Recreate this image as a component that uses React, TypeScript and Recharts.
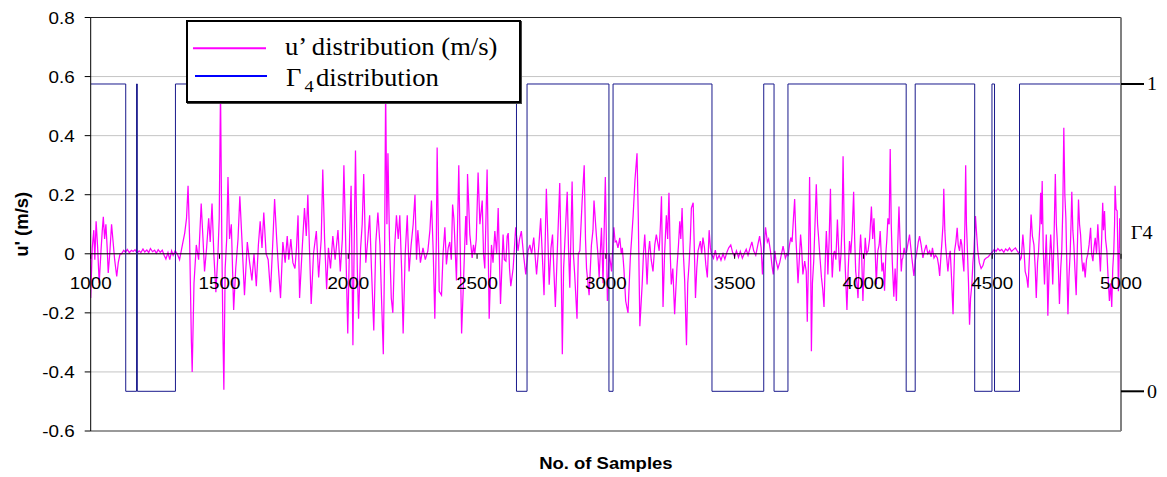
import React from "react";
import {
  LineChart,
  Line,
  XAxis,
  YAxis,
  CartesianGrid,
  ReferenceLine,
  Legend,
  Label,
} from "recharts";

// ---------- data ----------
const xTicks = [1000, 1500, 2000, 2500, 3000, 3500, 4000, 4500, 5000];
const uTicks = [0.8, 0.6, 0.4, 0.2, 0, -0.2, -0.4, -0.6];
const gTicks = [0, 1];

// u' distribution (m/s): [sample, value]
const uSegStart: [number, number][] = [
  [1000, -0.15], [1006, 0.02], [1012, 0.08], [1016, -0.02], [1021, 0.11], [1027, 0.02],
  [1033, -0.1], [1040, 0.01], [1045, 0.08], [1049, 0.125], [1054, 0.05], [1059, 0.1],
  [1064, 0.02], [1068, -0.065], [1074, 0.0], [1081, 0.1], [1087, 0.04], [1093, -0.02],
  [1101, -0.077], [1107, -0.03], [1114, 0.0], [1120, 0.0],
];
const uSegQuiet1: [number, number][] = [
  [1128, 0.012], [1135, 0.005], [1142, 0.015], [1150, 0.004], [1158, 0.012], [1165, 0.008],
  [1172, 0.014], [1180, 0.002], [1188, 0.01], [1195, 0.004], [1203, 0.016], [1210, 0.006],
  [1218, 0.013], [1225, 0.004], [1232, 0.018], [1240, 0.007], [1248, 0.012], [1255, 0.002],
  [1262, 0.014], [1270, 0.005], [1278, 0.012], [1285, -0.005], [1292, -0.018], [1300, 0.004],
  [1307, -0.02], [1314, 0.01], [1320, -0.005], [1328, 0.01],
];
const uSegB: [number, number][] = [
  [1336, 0.0], [1345, -0.02], [1356, 0.03], [1365, 0.07], [1372, 0.12], [1378, 0.23],
  [1384, 0.05], [1391, -0.3], [1394, -0.4], [1401, -0.1], [1410, 0.03], [1419, -0.02],
  [1429, 0.17], [1436, 0.05], [1442, -0.06], [1450, 0.02], [1458, 0.12], [1464, 0.04],
  [1471, 0.17], [1478, 0.0], [1486, -0.13], [1494, 0.0], [1499, 0.12], [1504, 0.56],
  [1509, 0.05], [1513, -0.25], [1517, -0.46], [1522, -0.05], [1528, 0.05], [1533, 0.26],
  [1539, 0.05], [1546, 0.1], [1555, -0.19], [1563, -0.05], [1572, 0.05], [1579, 0.195],
  [1587, 0.05], [1597, -0.14], [1608, 0.04], [1617, -0.03], [1626, -0.09], [1634, 0.0],
  [1643, -0.11], [1651, 0.03], [1658, 0.11], [1665, 0.02], [1672, 0.14], [1681, 0.0],
  [1689, -0.02], [1698, -0.13], [1706, 0.02], [1714, 0.185], [1722, 0.05], [1729, -0.05],
  [1737, -0.15], [1746, 0.04], [1755, -0.03], [1763, 0.06], [1769, -0.02], [1777, 0.05],
  [1785, -0.03], [1793, -0.05], [1799, 0.02], [1805, 0.13], [1811, -0.15], [1820, 0.0],
  [1830, 0.155], [1837, 0.06], [1843, 0.2], [1850, 0.0], [1856, -0.17], [1865, 0.0],
  [1876, 0.077], [1885, -0.08], [1895, 0.05], [1901, 0.285], [1908, 0.05], [1916, -0.12],
  [1923, 0.02], [1931, -0.05], [1940, 0.06], [1949, -0.02], [1960, 0.08], [1969, -0.06],
  [1977, 0.05], [1983, 0.3], [1991, 0.0], [1998, -0.27], [2005, 0.05], [2011, 0.23],
  [2018, -0.31], [2024, 0.1], [2028, 0.35], [2035, -0.05], [2040, -0.22], [2048, 0.02],
  [2054, 0.1], [2060, 0.27], [2068, -0.03], [2076, 0.05], [2083, 0.13], [2090, -0.05],
  [2099, -0.26], [2107, 0.04], [2115, 0.14], [2123, 0.03], [2129, -0.15], [2136, -0.34],
  [2141, 0.0], [2145, 0.56], [2150, 0.1], [2154, 0.34], [2160, 0.05], [2167, -0.15],
  [2173, -0.2], [2180, 0.02], [2187, 0.13], [2194, 0.05], [2200, 0.13], [2207, -0.05],
  [2213, -0.27], [2221, 0.0], [2229, 0.13], [2236, -0.06], [2244, 0.03], [2252, 0.1],
  [2259, 0.2], [2265, -0.02], [2270, 0.08], [2280, -0.03], [2290, 0.02], [2299, -0.02],
  [2309, 0.01], [2317, 0.08], [2323, 0.18], [2330, 0.0], [2336, -0.22], [2342, 0.05],
  [2345, 0.36],
];
const uSegC: [number, number][] = [
  [2353, -0.127], [2362, -0.14], [2368, 0.0], [2375, 0.09], [2381, -0.036], [2388, 0.02],
  [2394, 0.04], [2400, -0.02], [2405, 0.167], [2410, 0.12], [2420, -0.09], [2429, 0.3],
  [2435, 0.0], [2440, -0.27], [2446, -0.127], [2451, 0.0], [2456, 0.128], [2460, 0.03],
  [2463, 0.27], [2472, 0.065], [2481, -0.014], [2486, 0.03], [2491, -0.002], [2497, 0.05],
  [2504, 0.275], [2511, 0.1], [2520, 0.18], [2525, 0.0], [2530, -0.05], [2539, 0.285],
  [2547, -0.22], [2556, 0.03], [2562, -0.03], [2569, 0.077], [2576, 0.0], [2582, 0.155],
  [2591, -0.17], [2601, 0.065], [2606, -0.02], [2612, -0.025], [2617, 0.06], [2621, 0.07],
  [2626, -0.05], [2631, -0.11], [2640, -0.05], [2650, 0.09], [2659, 0.01], [2665, 0.05],
  [2672, 0.077], [2680, 0.0], [2689, -0.07], [2698, 0.01], [2705, 0.03], [2712, 0.0],
  [2720, 0.055], [2731, -0.07], [2740, 0.03], [2747, 0.12], [2753, 0.0], [2760, -0.14],
  [2769, 0.22], [2775, 0.05], [2780, -0.105], [2787, 0.02], [2793, 0.065], [2798, -0.05],
  [2804, -0.18], [2812, 0.02], [2821, 0.24], [2826, 0.0], [2831, -0.34], [2836, -0.05],
  [2841, 0.043], [2850, 0.21], [2855, 0.02], [2860, -0.115], [2869, 0.245], [2874, 0.0],
  [2879, -0.07], [2888, -0.22], [2893, 0.0], [2899, 0.01], [2908, 0.18], [2916, 0.3],
  [2921, 0.05], [2925, -0.05], [2935, -0.14], [2944, 0.03], [2950, 0.08], [2954, 0.18],
  [2963, 0.065], [2969, 0.0], [2974, -0.08], [2983, 0.088], [2989, -0.1], [2998, 0.26],
  [3006, -0.16], [3013, 0.0], [3018, -0.03], [3022, -0.06], [3031, 0.09], [3036, 0.04],
  [3041, 0.043], [3047, 0.02], [3054, 0.054], [3060, 0.0], [3064, 0.02], [3070, -0.05],
  [3077, -0.16], [3086, -0.2], [3095, -0.014], [3100, 0.05], [3106, 0.13], [3113, 0.25],
  [3121, 0.34], [3126, 0.12], [3132, -0.245], [3141, -0.104], [3146, 0.0], [3151, 0.065],
  [3156, -0.02], [3160, -0.104], [3165, 0.0], [3170, 0.043], [3176, -0.02], [3183, -0.06],
  [3190, 0.03], [3196, 0.065], [3207, 0.01], [3212, 0.1], [3216, 0.195], [3222, -0.18],
  [3228, 0.0], [3235, 0.13], [3240, 0.05], [3245, 0.207], [3250, 0.0], [3254, -0.104],
  [3260, -0.05], [3267, -0.205], [3276, -0.047], [3282, 0.03], [3287, 0.11], [3291, 0.05],
  [3296, 0.155], [3301, 0.0], [3306, -0.09], [3313, -0.31], [3318, -0.1], [3323, -0.036],
  [3328, 0.05], [3332, 0.155], [3339, 0.173], [3344, 0.0], [3348, -0.15], [3353, -0.05],
  [3358, 0.01], [3367, 0.043], [3372, 0.0], [3377, 0.055], [3383, 0.02], [3388, -0.036],
  [3394, -0.08], [3401, 0.08], [3406, 0.02], [3410, 0.0],
];
const uSegQuiet2: [number, number][] = [
  [3418, -0.015], [3425, 0.012], [3432, -0.02], [3440, -0.005], [3447, -0.022], [3455, 0.0],
  [3462, -0.018], [3470, 0.005], [3477, 0.02], [3485, 0.03], [3492, 0.005], [3500, -0.01],
  [3507, 0.01], [3515, -0.012], [3522, 0.008], [3530, -0.015], [3537, 0.0], [3545, 0.015],
  [3552, -0.005], [3560, 0.02], [3567, 0.04], [3574, 0.01], [3582, -0.005], [3590, 0.03],
  [3597, 0.06], [3603, 0.02],
];
const uSegE: [number, number][] = [
  [3608, -0.07], [3614, 0.02], [3620, 0.09], [3627, 0.04], [3632, 0.05], [3639, 0.01],
  [3645, -0.04], [3650, -0.07], [3656, 0.01], [3660, -0.02], [3668, -0.05], [3675, -0.03],
  [3682, 0.0], [3688, 0.026], [3697, -0.015], [3703, 0.0], [3708, -0.005], [3713, 0.03],
  [3718, 0.055], [3723, 0.04], [3727, 0.1], [3733, 0.185], [3738, 0.05], [3741, 0.0],
  [3746, -0.1], [3751, -0.02], [3756, 0.065], [3760, 0.02], [3765, -0.07], [3772, -0.025],
  [3778, -0.06], [3782, -0.23], [3787, 0.0], [3791, 0.26], [3795, 0.0], [3798, -0.33],
  [3802, -0.1], [3807, -0.025], [3812, 0.1], [3817, 0.235], [3822, 0.1], [3826, 0.055],
  [3832, -0.02], [3837, -0.08], [3842, -0.12], [3847, -0.18], [3852, -0.02], [3856, 0.077],
  [3860, 0.0], [3862, -0.07], [3867, 0.05], [3872, 0.22], [3876, 0.0], [3879, -0.08],
  [3884, 0.0], [3888, 0.01], [3893, -0.02], [3899, 0.116], [3903, 0.03], [3908, -0.06],
  [3913, 0.0], [3917, 0.1], [3921, 0.33], [3926, 0.05], [3930, -0.06], [3936, -0.19],
  [3941, -0.05], [3946, 0.043], [3951, 0.0], [3956, 0.07], [3962, 0.21], [3966, 0.05],
  [3970, -0.06], [3975, -0.1], [3979, -0.15], [3984, -0.02], [3989, 0.065], [3993, 0.0],
  [3998, -0.16], [4003, -0.03], [4007, 0.054], [4012, 0.0], [4018, 0.01], [4024, 0.05],
  [4031, 0.16], [4036, 0.05], [4041, 0.12], [4046, 0.0], [4050, -0.104], [4053, -0.04],
  [4056, 0.01], [4061, 0.03], [4065, 0.077], [4069, 0.0], [4072, -0.06], [4077, -0.03],
  [4082, -0.125], [4087, 0.0], [4091, 0.05], [4095, 0.12], [4100, 0.1], [4104, 0.355],
  [4108, 0.1], [4112, -0.025], [4118, -0.145], [4123, -0.05], [4128, -0.16], [4133, 0.02],
  [4138, 0.16], [4142, 0.05], [4147, -0.06], [4150, -0.02], [4153, -0.014], [4158, 0.02],
  [4162, 0.0], [4166, -0.002], [4172, 0.03], [4179, 0.065], [4184, 0.02], [4188, -0.014],
  [4196, -0.075], [4202, -0.02], [4208, 0.01], [4213, 0.04], [4218, 0.06], [4224, 0.03],
  [4231, -0.014], [4237, 0.01], [4244, 0.03], [4250, 0.0], [4257, 0.01], [4263, -0.01],
  [4268, 0.02], [4274, -0.014], [4280, -0.005], [4287, -0.014], [4292, -0.04], [4296, -0.075],
  [4300, -0.02], [4305, 0.043], [4309, 0.1], [4312, 0.22], [4316, 0.08], [4319, 0.03],
  [4324, -0.02], [4328, -0.06], [4333, -0.01], [4337, 0.01], [4342, -0.08], [4348, -0.205],
  [4351, -0.08], [4354, 0.01], [4359, 0.04], [4364, 0.088], [4368, 0.03], [4373, 0.01],
  [4378, 0.05], [4382, 0.03], [4386, -0.02], [4390, -0.06], [4394, 0.1], [4397, 0.3],
  [4400, 0.1], [4403, 0.03], [4408, -0.1], [4412, -0.24], [4416, -0.15], [4421, -0.104],
  [4425, -0.03], [4429, 0.01], [4432, 0.07], [4435, 0.128], [4440, 0.06], [4444, 0.01],
  [4450, -0.03], [4457, -0.05], [4464, -0.04], [4470, -0.02], [4477, -0.014], [4485, -0.01],
  [4494, 0.0],
];
const uSegQuiet3: [number, number][] = [
  [4500, 0.005], [4508, 0.015], [4515, 0.008], [4522, 0.018], [4530, 0.01], [4537, 0.015],
  [4545, 0.005], [4552, 0.016], [4560, 0.01], [4567, 0.02], [4575, 0.008], [4582, 0.014],
  [4590, 0.02], [4597, 0.01], [4605, 0.0],
];
const uSegG: [number, number][] = [
  [4609, -0.02], [4613, -0.014], [4619, 0.065], [4623, 0.02], [4628, -0.06], [4634, -0.08],
  [4639, -0.115], [4645, 0.0], [4651, 0.133], [4656, 0.06], [4662, 0.03], [4667, -0.05],
  [4671, -0.15], [4676, -0.03], [4680, 0.01], [4685, 0.1], [4688, 0.207], [4691, 0.1],
  [4694, 0.246], [4698, 0.02], [4703, -0.104], [4707, 0.0], [4710, 0.065], [4713, -0.05],
  [4716, -0.21], [4721, -0.05], [4727, 0.065], [4731, 0.0], [4735, -0.104], [4740, 0.05],
  [4745, 0.27], [4749, 0.1], [4752, 0.054], [4757, -0.05], [4761, -0.17], [4766, -0.05],
  [4770, 0.01], [4774, 0.15], [4778, 0.427], [4782, 0.2], [4786, 0.12], [4790, -0.05],
  [4794, -0.205], [4798, -0.08], [4803, 0.01], [4806, 0.1], [4809, 0.21], [4813, 0.08],
  [4817, 0.03], [4821, -0.05], [4826, -0.14], [4830, 0.0], [4835, 0.184], [4839, 0.1],
  [4843, 0.065], [4848, -0.02], [4852, -0.06], [4856, -0.03], [4861, -0.08], [4866, -0.02],
  [4871, -0.002], [4876, 0.03], [4882, 0.088], [4886, 0.0], [4891, -0.025], [4895, 0.02],
  [4900, 0.054], [4905, 0.0], [4910, 0.1], [4915, 0.02], [4920, -0.06], [4925, 0.05],
  [4929, 0.173], [4932, 0.08], [4936, 0.145], [4940, 0.05], [4945, 0.01], [4950, -0.08],
  [4955, -0.16], [4960, -0.1], [4964, -0.18], [4968, -0.05], [4972, 0.01], [4975, 0.1],
  [4977, 0.23], [4981, 0.15], [4985, 0.145], [4988, 0.0], [4990, -0.127], [4993, 0.0],
  [4995, 0.12], [4998, 0.02], [5000, 0.05],
];

// Γ4 distribution (0/1 step): [sample, value]
const gammaPoints: [number, number][] = [
  [1000, 1], [1136, 0], [1178, 1], [1181, 0], [1329, 1], [2653, 0], [2694, 1],
  [3012, 0], [3028, 1], [3412, 0], [3613, 1], [3653, 0], [3707, 1], [4166, 0],
  [4201, 1], [4432, 0], [4499, 1], [4509, 0], [4606, 1], [5000, 1],
];

const uData = [
  ...uSegStart, ...uSegQuiet1, ...uSegB, ...uSegC, ...uSegQuiet2,
  ...uSegE, ...uSegQuiet3, ...uSegG,
].map(([s, u]) => ({ s, u }));
const gData = gammaPoints.map(([s, g]) => ({ s, g }));

// ---------- layout / style ----------
const W = 1167;
const H = 477;
const M_TOP = 17.5;
const X_AXIS_H = 46;
const LEFT_AXIS_W = 90.7;
const RIGHT_AXIS_W = 46;
const PLOT_H = H - M_TOP - X_AXIS_H;
const U_MIN = -0.6;
const U_MAX = 0.8;
const G_MIN = -0.1292;
const G_MAX = 1.2164;
const SANS = '"Liberation Sans", Arial, sans-serif';
const SERIF = '"Liberation Serif", "Times New Roman", serif';
const SX = 1.087;

type STextProps = {
  x: number;
  y: number;
  anchor?: "start" | "middle" | "end";
  size: number;
  family?: string;
  weight?: string | number;
  fill?: string;
  children?: React.ReactNode;
};
const SText = ({ x, y, anchor = "start", size, family = SANS, weight = "normal", fill = "#000", children }: STextProps) => (
  <text
    transform={`translate(${x},${y}) scale(${SX},1)`}
    x={0}
    y={0}
    textAnchor={anchor}
    fontSize={size}
    fontFamily={family}
    fontWeight={weight}
    fill={fill}
  >
    {children}
  </text>
);

const XTick = (props: any) => {
  const { x, y, payload } = props;
  const zeroY = y - (PLOT_H * (0 - U_MIN)) / (U_MAX - U_MIN);
  return (
    <g>
      <line x1={x} x2={x} y1={zeroY} y2={zeroY + 5} stroke="#000" strokeWidth={1} />
      <SText x={x} y={zeroY + 35.5} anchor="middle" size={17.3}>
        {String(payload.value)}
      </SText>
    </g>
  );
};

const YTickLeft = (props: any) => {
  const { x, y, payload } = props;
  return (
    <SText x={x} y={y + 6.2} anchor="end" size={17.3}>
      {String(payload.value)}
    </SText>
  );
};

const YTickRight = (props: any) => {
  const { x, y, payload } = props;
  return (
    <SText x={x} y={y + 6.3} anchor="start" size={18.4} family={SERIF}>
      {String(payload.value)}
    </SText>
  );
};

const LegendBox = () => (
  <div
    style={{
      width: 331,
      height: 79,
      border: "2px solid #000",
      background: "#fff",
      boxShadow: "1px 1px 0 #444",
      position: "relative",
    }}
  >
    <svg width={331} height={79} style={{ position: "absolute", left: 0, top: 0 }}>
      <line x1={5} x2={78} y1={26.3} y2={26.3} stroke="#ff00ff" strokeWidth={2} />
      <line x1={7} x2={79} y1={54} y2={54} stroke="#0000ff" strokeWidth={2} />
      <SText x={97} y={33} size={24.5} family={SERIF}>
        u’ distribution (m/s)
      </SText>
      <SText x={98} y={64} size={24.5} family={SERIF}>
        Γ
      </SText>
      <SText x={116.5} y={69.5} size={17} family={SERIF}>
        4
      </SText>
      <SText x={128} y={64} size={24.5} family={SERIF}>
        distribution
      </SText>
    </svg>
  </div>
);

const YTitle = (props: any) => {
  const vb = props.viewBox || { x: 0, y: M_TOP, width: LEFT_AXIS_W, height: PLOT_H };
  const cy = vb.y + vb.height / 2;
  return (
    <text
      transform={`translate(28,${cy}) rotate(-90)`}
      textAnchor="middle"
      fontSize={18.5}
      fontWeight="bold"
      fontFamily={SANS}
      fill="#000"
    >
      u' (m/s)
    </text>
  );
};

const XTitle = (props: any) => {
  const vb = props.viewBox || { x: LEFT_AXIS_W, y: H - X_AXIS_H, width: 1030, height: X_AXIS_H };
  return (
    <SText x={vb.x + vb.width / 2} y={vb.y + 38} anchor="middle" size={17} weight="bold">
      No. of Samples
    </SText>
  );
};

const GammaTitle = (props: any) => {
  const vb = props.viewBox || { x: W - RIGHT_AXIS_W, y: M_TOP, width: RIGHT_AXIS_W, height: PLOT_H };
  return (
    <SText x={vb.x + 9.7} y={vb.y + vb.height / 2 + 14.7} size={18.6} family={SERIF}>
      Γ4
    </SText>
  );
};

export default function App() {
  return (
    <div style={{ position: "absolute", left: 0, top: 0, width: W, height: H, background: "#fff" }}>
      <LineChart width={W} height={H} margin={{ top: M_TOP, right: 0, bottom: 0, left: 0 }}>
        <CartesianGrid yAxisId="left" vertical={false} stroke="#c4c4c4" strokeWidth={1} />
        <XAxis
          dataKey="s"
          type="number"
          domain={[1000, 5000]}
          ticks={xTicks}
          interval={0}
          allowDataOverflow
          height={X_AXIS_H}
          tickSize={0}
          tickMargin={0}
          tickLine={false}
          axisLine={{ stroke: "#808080", strokeWidth: 1.5 }}
          tick={<XTick />}
        >
          <Label content={<XTitle />} />
        </XAxis>
        <YAxis
          yAxisId="left"
          domain={[U_MIN, U_MAX]}
          ticks={uTicks}
          interval={0}
          allowDataOverflow
          width={LEFT_AXIS_W}
          tickSize={6}
          tickMargin={10}
          axisLine={{ stroke: "#000", strokeWidth: 1 }}
          tickLine={{ stroke: "#000", strokeWidth: 1 }}
          tick={<YTickLeft />}
        >
          <Label content={<YTitle />} />
        </YAxis>
        <YAxis
          yAxisId="right"
          orientation="right"
          domain={[G_MIN, G_MAX]}
          ticks={gTicks}
          interval={0}
          allowDataOverflow
          width={RIGHT_AXIS_W}
          tickSize={23}
          tickMargin={3}
          axisLine={{ stroke: "#808080", strokeWidth: 2 }}
          tickLine={{ stroke: "#000", strokeWidth: 2 }}
          tick={<YTickRight />}
        >
          <Label content={<GammaTitle />} />
        </YAxis>
        <ReferenceLine yAxisId="left" y={0.8} stroke="#222" strokeWidth={1.2} />
        <Line
          data={uData}
          dataKey="u"
          yAxisId="left"
          type="linear"
          stroke="#ff00ff"
          strokeWidth={1.25}
          dot={false}
          activeDot={false}
          isAnimationActive={false}
        />
        <ReferenceLine yAxisId="left" y={0} stroke="#000" strokeWidth={1} />
        <Line
          data={gData}
          dataKey="g"
          yAxisId="right"
          type="stepAfter"
          stroke="#1a1a8c"
          strokeWidth={1}
          dot={false}
          activeDot={false}
          isAnimationActive={false}
        />
        <Legend
          layout="horizontal"
          verticalAlign="middle"
          align="center"
          content={<LegendBox />}
          wrapperStyle={{ left: 186, top: 20, width: 335, height: 83 }}
        />
      </LineChart>
    </div>
  );
}
